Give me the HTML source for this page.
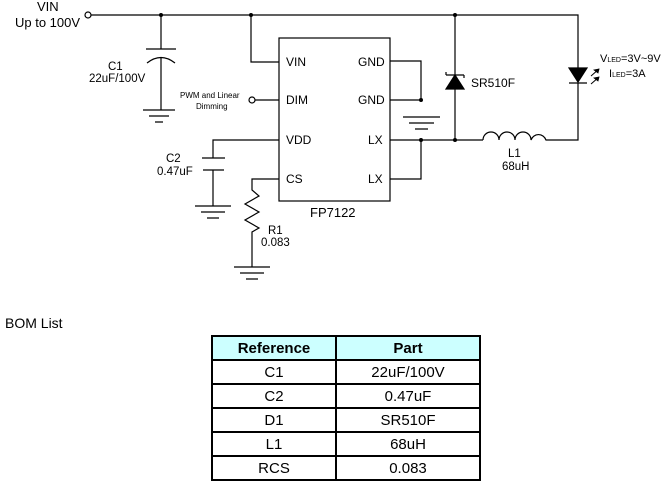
<!DOCTYPE html>
<html><head><style>
body{margin:0;width:666px;height:495px;background:#fff;position:relative;overflow:hidden;font-family:"Liberation Sans",sans-serif}
svg{position:absolute;left:0;top:0}
table{position:absolute;left:211px;top:335px;border-collapse:collapse;font-size:15px}
td{border:2px solid #000;text-align:center;padding:0;height:22px}
</style></head><body>
<svg width="666" height="330" font-family="Liberation Sans, sans-serif" fill="none" stroke="#000" stroke-width="1.2">
<circle cx="88" cy="15" r="3" fill="#fff"/>
<path d="M91 15H578V68M161 15V49M251 15V62H279M455 15V140"/>
<g fill="#000" stroke="none"><circle cx="161" cy="15" r="2"/><circle cx="251" cy="15" r="2"/><circle cx="455" cy="15" r="2"/><circle cx="455" cy="140" r="2"/><circle cx="421" cy="140" r="2"/><circle cx="421" cy="100" r="2"/></g>
<path d="M146 49H176M147 63Q161 52 175 63M161 58V110M143 110H175M149 116H169M155 122H163"/>
<rect x="279" y="38" width="111" height="163"/>
<circle cx="252" cy="100" r="3" fill="#fff"/><path d="M255 100H279"/>
<path d="M279 140H213V158M202 158H225M203 170H224M213 170V206M195 206H231M201 212H225M207 218H219"/>
<path d="M279 179H252V190L259 196L245 204L259 212L245 220L259 228L252 232V267M234 267H270M240 273H264M246 279H258"/>
<path d="M390 61H421V100H390M403 117H440M409 123H434M415 129H428M390 140H483M421 140V179H390"/>
<path d="M483 140A7.9 7.9 0 0 1 499 140A7.9 7.9 0 0 1 515 140A7.9 7.9 0 0 1 531 140A7.9 7.9 0 0 1 546 140H578V83"/>
<path d="M446 75H464M446 75V72M464 75V78"/>
<path d="M455 75L446 89H464Z" fill="#000"/>
<path d="M569 68H587L578 82Z" fill="#000"/><path d="M569 83H587"/>
<path d="M591 76L599 69M591 84L599 77" stroke-width="1"/>
<path d="M599 69L594 70L598 73ZM599 77L594 78L598 81Z" fill="#000" stroke-width="0.8"/>
<g fill="#000" stroke="none" font-size="13">
<text x="37" y="11">VIN</text><text x="15" y="27">Up to 100V</text>
<text x="108" y="70" font-size="11.5">C1</text><text x="89" y="82" font-size="11.5">22uF/100V</text>
<text x="180" y="98" font-size="8">PWM and Linear</text><text x="196" y="109" font-size="8">Dimming</text>
<text x="286" y="66" font-size="12">VIN</text><text x="286" y="104" font-size="12">DIM</text><text x="286" y="144" font-size="12">VDD</text><text x="286" y="183" font-size="12">CS</text>
<text x="358" y="66" font-size="12">GND</text><text x="358" y="104" font-size="12">GND</text><text x="368" y="144" font-size="12">LX</text><text x="368" y="183" font-size="12">LX</text>
<text x="310" y="217">FP7122</text>
<text x="166" y="162" font-size="11.5">C2</text><text x="157" y="175" font-size="11.5">0.47uF</text>
<text x="268" y="234" font-size="11.5">R1</text><text x="261" y="246" font-size="11.5">0.083</text>
<text x="471" y="87" font-size="12">SR510F</text>
<text x="508" y="157" font-size="11.5">L1</text><text x="502" y="170" font-size="11.5">68uH</text>
<text x="600" y="62" font-size="11">V<tspan font-size="7">LED</tspan>=3V~9V</text>
<text x="609" y="77" font-size="11">I<tspan font-size="7">LED</tspan>=3A</text>
<text x="5" y="328" font-size="14">BOM List</text>
</g>
</svg>
<table>
<tr style="background:#ccffff;font-weight:bold"><td style="width:122px;height:22px">Reference</td><td style="width:142px">Part</td></tr>
<tr><td>C1</td><td>22uF/100V</td></tr>
<tr><td>C2</td><td>0.47uF</td></tr>
<tr><td>D1</td><td>SR510F</td></tr>
<tr><td>L1</td><td>68uH</td></tr>
<tr><td>RCS</td><td>0.083</td></tr>
</table>
</body></html>
